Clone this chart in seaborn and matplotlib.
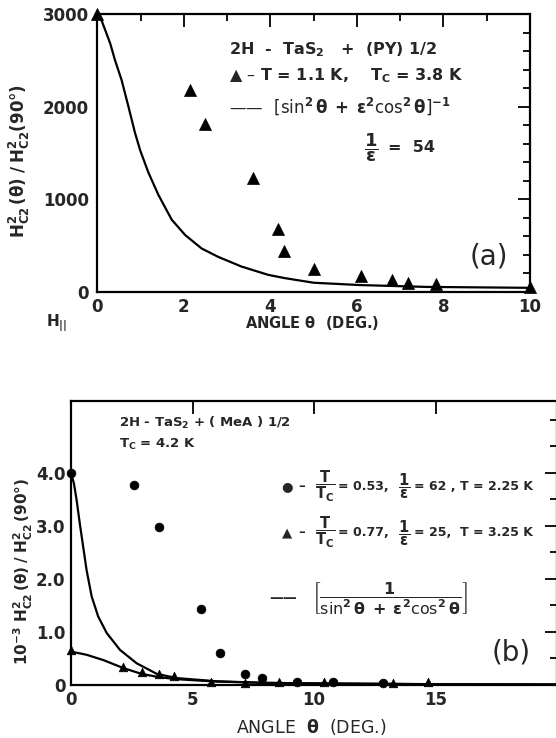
import matplotlib
matplotlib.use("Agg")
import matplotlib.pyplot as plt
from matplotlib.ticker import MultipleLocator, FixedLocator
import seaborn as sns
import pandas as pd

# ---------------- data: panel (a) ----------------
a_tri_x = [0.0, 2.14, 2.50, 3.60, 4.17, 4.32, 5.00, 6.09, 6.81, 7.17, 7.82, 10.0]
a_tri_y = [3000, 2180, 1810, 1230, 685, 445, 250, 170, 125, 100, 90, 55]
a_fit_x = [0.0, 0.09, 0.18, 0.30, 0.41, 0.56, 0.72, 0.87, 0.99, 1.18, 1.41, 1.72, 2.03, 2.41,
           2.79, 3.33, 3.95, 4.33, 5.0, 6.06, 7.6, 10.0]
a_fit_y = [3000, 2940, 2830, 2680, 2500, 2290, 2000, 1720, 1530, 1290, 1050, 780, 615, 470,
           380, 275, 185, 150, 100, 75, 55, 45]

# ---------------- data: panel (b) ----------------
b_circ_x = [0.0, 2.59, 3.64, 5.35, 6.13, 7.18, 7.88, 9.30, 10.80, 12.86]
b_circ_y = [4.00, 3.77, 2.98, 1.43, 0.60, 0.21, 0.13, 0.06, 0.06, 0.04]
b_tri_x = [0.0, 2.15, 2.92, 3.64, 4.24, 5.77, 7.15, 8.57, 10.43, 13.26, 14.70]
b_tri_y = [0.66, 0.34, 0.25, 0.21, 0.17, 0.06, 0.03, 0.06, 0.06, 0.04, 0.06]
b_fit1_x = [0.0, 0.12, 0.23, 0.36, 0.50, 0.64, 0.85, 1.12, 1.47, 2.02, 2.70, 3.53, 4.35,
            4.90, 6.0, 8.0, 10.0, 15.0, 20.0]
b_fit1_y = [4.00, 3.80, 3.49, 3.05, 2.61, 2.17, 1.67, 1.29, 0.98, 0.66, 0.41, 0.21, 0.13,
            0.11, 0.07, 0.04, 0.03, 0.015, 0.01]
b_fit2_x = [0.0, 0.64, 1.33, 2.15, 2.90, 3.66, 4.35, 4.90, 6.0, 8.0, 10.0, 15.0, 20.0]
b_fit2_y = [0.63, 0.57, 0.47, 0.32, 0.21, 0.145, 0.11, 0.094, 0.065, 0.04, 0.03, 0.015, 0.01]

a_xticks = [0, 2, 4, 6, 8, 10]
a_yticks = [0, 1000, 2000, 3000]
b_xticks = [0, 5, 10, 15]
b_yticks = [0, 1.0, 2.0, 3.0, 4.0]
b_yticklabels = ["0", "1.0", "2.0", "3.0", "4.0"]

sns.set_style("white")
plt.rcParams["font.family"] = ["DejaVu Sans"]
plt.rcParams["mathtext.fontset"] = "dejavusans"
plt.rcParams["mathtext.default"] = "bf"

fig = plt.figure(figsize=(5.56, 7.38), dpi=100)
W, H = 556.0, 738.0
axA = fig.add_axes([97.3 / W, 1 - 292 / H, (530 - 97.3) / W, (292 - 14) / H])
axB = fig.add_axes([71 / W, 1 - 685 / H, (557 - 71) / W, (685 - 400.7) / H])

K = "black"

# ---------- panel (a) ----------
dfa_fit = pd.DataFrame({"x": a_fit_x, "y": a_fit_y})
dfa_pts = pd.DataFrame({"x": a_tri_x, "y": a_tri_y})
sns.lineplot(data=dfa_fit, x="x", y="y", ax=axA, color=K, lw=1.6, sort=False)
sns.scatterplot(data=dfa_pts, x="x", y="y", ax=axA, marker="^", s=75,
                color=K, edgecolor=K, linewidth=0.5, zorder=5, clip_on=False)
axA.set_xlim(0, 10)
axA.set_ylim(0, 3000)
axA.xaxis.set_major_locator(FixedLocator(a_xticks))
axA.xaxis.set_minor_locator(MultipleLocator(1))
axA.yaxis.set_major_locator(FixedLocator(a_yticks))
axA.yaxis.set_minor_locator(MultipleLocator(200))
axA.set_xlabel("")
axA.set_ylabel("")

# ---------- panel (b) ----------
dfb1 = pd.DataFrame({"x": b_fit1_x, "y": b_fit1_y})
dfb2 = pd.DataFrame({"x": b_fit2_x, "y": b_fit2_y})
dfbc = pd.DataFrame({"x": b_circ_x, "y": b_circ_y})
dfbt = pd.DataFrame({"x": b_tri_x, "y": b_tri_y})
sns.lineplot(data=dfb1, x="x", y="y", ax=axB, color=K, lw=1.6, sort=False)
sns.lineplot(data=dfb2, x="x", y="y", ax=axB, color=K, lw=1.6, sort=False)
sns.scatterplot(data=dfbc, x="x", y="y", ax=axB, marker="o", s=40,
                color=K, edgecolor=K, linewidth=0.5, zorder=5, clip_on=False)
sns.scatterplot(data=dfbt, x="x", y="y", ax=axB, marker="^", s=38,
                color=K, edgecolor=K, linewidth=0.5, zorder=5, clip_on=False)
axB.set_xlim(0, 20)
axB.set_ylim(0, 5.36)
axB.xaxis.set_major_locator(FixedLocator(b_xticks))
axB.yaxis.set_major_locator(FixedLocator(b_yticks))
axB.yaxis.set_minor_locator(MultipleLocator(0.5))
axB.set_yticklabels(b_yticklabels)
axB.set_xlabel("")
axB.set_ylabel("")

for ax in (axA, axB):
    for s in ax.spines.values():
        s.set_color(K)
        s.set_linewidth(1.6)
    ax.tick_params(which="both", direction="in", top=True, right=True,
                   color=K, width=1.3)
    ax.tick_params(which="major", length=9, labelsize=12, pad=4)
    ax.tick_params(which="minor", length=5)
    for lab in ax.get_xticklabels() + ax.get_yticklabels():
        lab.set_fontweight("bold")
axA.tick_params(axis="y", pad=6)

# ---------- labels (a) ----------
axA.text(-0.18, 0.47, r"$H^2_{C2}\,(\theta)\;/\;H^2_{C2}(90°)$", transform=axA.transAxes,
         rotation=90, ha="center", va="center", fontsize=12, fontweight="bold")
axA.text(0.496, -0.112, r"ANGLE $\theta$  (DEG.)", transform=axA.transAxes,
         ha="center", va="center", fontsize=10.5, fontweight="bold")
axA.text(-0.095, -0.112, r"$H_{||}$", transform=axA.transAxes,
         ha="center", va="center", fontsize=11, fontweight="bold")
axA.text(3.04, 2610, r"2H  -  TaS$_2$   +  (PY) 1/2", ha="left", va="center",
         fontsize=11.5, fontweight="bold")
axA.text(3.04, 2330, r"▲ – T = 1.1 K,    T$_C$ = 3.8 K", ha="left", va="center",
         fontsize=11.5, fontweight="bold")
axA.text(3.04, 2000, r"——  $\left[\sin^2\theta\;+\;\epsilon^2\cos^2\theta\right]^{-1}$",
         ha="left", va="center", fontsize=12, fontweight="bold")
axA.text(6.32, 1560, r"$\dfrac{1}{\epsilon}$", ha="center", va="center",
         fontsize=13, fontweight="bold")
axA.text(6.72, 1560, "=  54", ha="left", va="center",
         fontsize=11.5, fontweight="bold")
axA.text(9.05, 380, "(a)", ha="center", va="center", fontsize=20)

# ---------- labels (b) ----------
axB.text(-0.098, 0.40, r"$10^{-3}\ H^2_{C2}\,(\theta)\;/\;H^2_{C2}\,(90°)$", transform=axB.transAxes,
         rotation=90, ha="center", va="center", fontsize=11, fontweight="bold")
axB.text(0.494, -0.148, r"ANGLE  $\theta$  (DEG.)", transform=axB.transAxes,
         ha="center", va="center", fontsize=12.5)
axB.text(1.98, 4.94, r"2H - TaS$_2$ + ( MeA ) 1/2", ha="left", va="center",
         fontsize=9.5, fontweight="bold")
axB.text(1.98, 4.53, r"T$_C$ = 4.2 K", ha="left", va="center",
         fontsize=9.5, fontweight="bold")

legend_rows = [("●", "0.53,", "62 ,", "2.25 K", 3.74),
               ("▲", "0.77,", "25,", "3.25 K", 2.87)]
for sym, ttc, inv_eps, temp, yy in legend_rows:
    axB.text(8.89, yy, sym, ha="center", va="center", fontsize=9.5)
    axB.text(9.5, yy, "–", ha="center", va="center", fontsize=9.5, fontweight="bold")
    axB.text(10.45, yy, r"$\dfrac{T}{T_C}$", ha="center", va="center", fontsize=10.5)
    axB.text(11.0, yy, "= " + ttc, ha="left", va="center", fontsize=9, fontweight="bold")
    axB.text(13.7, yy, r"$\dfrac{1}{\epsilon}$", ha="center", va="center", fontsize=10.5)
    axB.text(14.1, yy, "= " + inv_eps, ha="left", va="center", fontsize=9, fontweight="bold")
    axB.text(16.0, yy, "T = " + temp, ha="left", va="center", fontsize=9, fontweight="bold")

axB.text(8.15, 1.64, "——", ha="left", va="center", fontsize=10, fontweight="bold")
axB.text(9.9, 1.64, r"$\left[\dfrac{1}{\sin^2\theta\;+\;\epsilon^2\cos^2\theta}\right]$",
         ha="left", va="center", fontsize=11.5, fontweight="bold")
axB.text(18.1, 0.62, "(b)", ha="center", va="center", fontsize=20)

fig.savefig("out.png", dpi=100, facecolor="white")
